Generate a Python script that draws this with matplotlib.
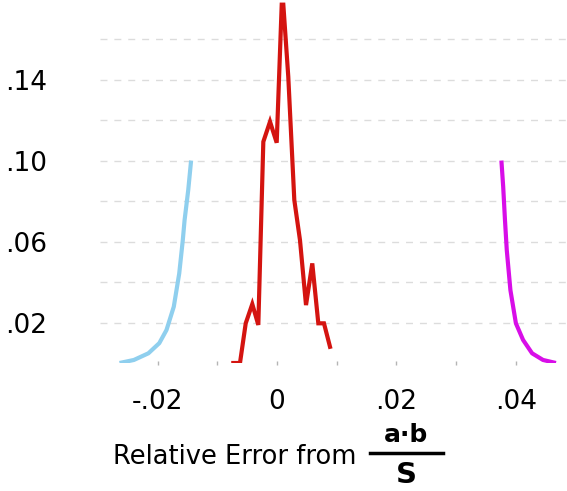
import matplotlib
matplotlib.use("Agg")
import matplotlib.pyplot as plt
from matplotlib.lines import Line2D

# relative error (x) vs. density (y)
blue_x = [-0.02638, -0.02397, -0.02154, -0.01972, -0.01851, -0.01729, -0.01638,
          -0.01578, -0.01548, -0.01487, -0.01439]
blue_y = [0.0, 0.0015, 0.0048, 0.0098, 0.0163, 0.0278, 0.0442, 0.0607, 0.0706,
          0.0854, 0.1000]

red_x = [-0.00732, -0.0062, -0.00524, -0.00414, -0.00313, -0.00229, -0.00117,
         -0.00005, 0.00079, 0.00106, 0.00189, 0.00290, 0.00385, 0.00486,
         0.00591, 0.00692, 0.00787, 0.00888]
red_y = [0.0, 0.0, 0.0196, 0.0291, 0.0188, 0.1093, 0.1192, 0.1088, 0.1770,
         0.1770, 0.1414, 0.0805, 0.0607, 0.0286, 0.0492, 0.0196, 0.0196, 0.0080]

magenta_x = [0.04673, 0.04456, 0.04273, 0.04122, 0.04002, 0.03910, 0.03849,
             0.03819, 0.03789, 0.03759]
magenta_y = [0.0, 0.0015, 0.0048, 0.0114, 0.0196, 0.0360, 0.0558, 0.0706,
             0.0871, 0.1000]

x_ticks = [-0.02, -0.01, 0.0, 0.01, 0.02, 0.03, 0.04]
x_labels = ["-.02", "", "0", "", ".02", "", ".04"]
y_major = [0.02, 0.06, 0.10, 0.14]
y_labels = [".02", ".06", ".10", ".14"]
y_minor = [0.04, 0.08, 0.12, 0.16]

W, H = 567, 491
fig = plt.figure(figsize=(W / 100, H / 100), dpi=100)
fig.patch.set_facecolor("white")
ax = fig.add_axes([100 / W, (H - 363) / H, 467 / W, 363 / H])

ax.plot(blue_x, blue_y, color="#8fcfee", linewidth=3, solid_capstyle="butt")
ax.plot(red_x, red_y, color="#d41410", linewidth=3, solid_joinstyle="miter")
ax.plot(magenta_x, magenta_y, color="#d80ee8", linewidth=3, solid_capstyle="butt")

ax.set_xlim(-0.02965, 0.04858)
ax.set_ylim(0, 0.1793)

ax.set_xticks(x_ticks)
ax.set_xticklabels(x_labels, fontsize=19)
ax.tick_params(axis="x", length=3, width=1, color="#b5b5b5", pad=17, direction="inout")

ax.set_yticks(y_major)
ax.set_yticks(y_minor, minor=True)
ax.set_yticklabels(y_labels, fontsize=19)
ax.tick_params(axis="y", which="both", length=0, pad=38)
ax.grid(True, axis="y", which="both", color="#dcdcdc", linestyle=(0, (5, 5)), linewidth=1)
ax.set_axisbelow(True)

for spine in ax.spines.values():
    spine.set_visible(False)

# axis title with a stacked fraction
fig.text(113 / W, 1 - 457 / H, "Relative Error from", fontsize=18.5, ha="left", va="center")
fig.text(406 / W, 1 - 435 / H, "a\u00b7b", fontsize=18, fontweight="bold", ha="center", va="center")
fig.text(406 / W, 1 - 475 / H, "S", fontsize=21, fontweight="bold", ha="center", va="center")
fig.add_artist(Line2D([370 / W, 443 / W], [1 - 453 / H, 1 - 453 / H], color="black",
                      linewidth=2.5, transform=fig.transFigure))

fig.savefig("out.png", dpi=100)
